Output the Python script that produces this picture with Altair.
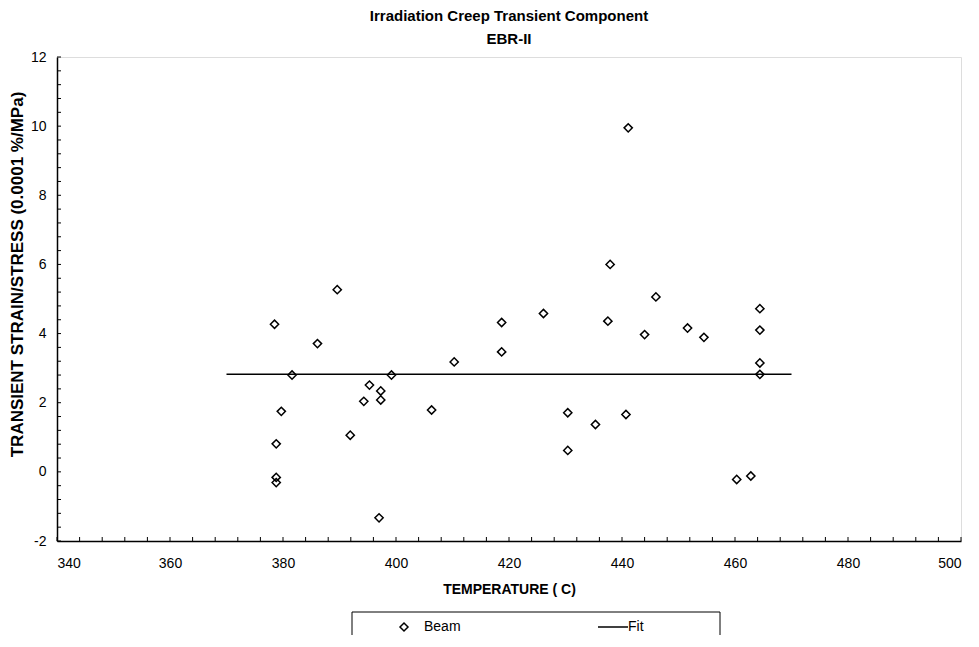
import altair as alt
import pandas as pd

beam_temperature = [378.5, 378.8, 378.8, 378.8, 379.7, 381.6, 386.1, 389.6, 391.9,
                    394.3, 395.3, 397.0, 397.3, 397.3, 399.2, 406.3, 410.3, 418.7,
                    418.7, 426.1, 430.4, 430.4, 435.3, 437.9, 437.5, 440.7, 441.1,
                    444.0, 446.0, 451.6, 454.5, 460.3, 462.8, 464.4, 464.4, 464.4, 464.4]
beam_strain = [4.27, 0.81, -0.16, -0.31, 1.75, 2.80, 3.71, 5.27, 1.06,
               2.04, 2.51, -1.33, 2.34, 2.08, 2.80, 1.79, 3.18, 4.32,
               3.47, 4.58, 1.71, 0.62, 1.37, 6.00, 4.36, 1.66, 9.95,
               3.97, 5.06, 4.16, 3.89, -0.22, -0.12, 4.72, 4.10, 3.15, 2.82]

# Fit line
fit_temperature = [370, 470]
fit_strain = [2.82, 2.82]

# Axis labels and minor tick positions
x_labels = [340, 360, 380, 400, 420, 440, 460, 480, 500]
y_labels = [-2, 0, 2, 4, 6, 8, 10, 12]
x_ticks = [340, 344, 348, 352, 356, 360, 364, 368, 372, 376, 380, 384, 388, 392,
           396, 400, 404, 408, 412, 416, 420, 424, 428, 432, 436, 440, 444, 448,
           452, 456, 460, 464, 468, 472, 476, 480, 484, 488, 492, 496, 500]
y_ticks = [-2.0, -1.6, -1.2, -0.8, -0.4, 0.0, 0.4, 0.8, 1.2, 1.6, 2.0, 2.4, 2.8,
           3.2, 3.6, 4.0, 4.4, 4.8, 5.2, 5.6, 6.0, 6.4, 6.8, 7.2, 7.6, 8.0, 8.4,
           8.8, 9.2, 9.6, 10.0, 10.4, 10.8, 11.2, 11.6, 12.0]

series_names = ["Beam", "Fit"]

beam_df = pd.DataFrame({"temperature": beam_temperature, "strain": beam_strain,
                        "series": "Beam"})
fit_df = pd.DataFrame({"temperature": fit_temperature, "strain": fit_strain})
xt_df = pd.DataFrame({"temperature": x_ticks})
yt_df = pd.DataFrame({"strain": y_ticks})

W, H = 904, 484
FONT = "Liberation Sans"

x_scale = alt.Scale(domain=[340, 500], nice=False, zero=False)
y_scale = alt.Scale(domain=[-2, 12], nice=False, zero=False)

x_axis = alt.Axis(values=x_labels, labelExpr="toString(datum.value)",
                  ticks=False, grid=False,
                  domainColor="black", domainWidth=1.5,
                  labelFont=FONT, labelFontSize=14, labelColor="black",
                  labelPadding=15,
                  title="TEMPERATURE ( C)", titleFont=FONT, titleFontSize=14,
                  titleFontWeight="bold", titleColor="black", titlePadding=12)
y_axis = alt.Axis(values=y_labels, labelExpr="toString(datum.value)",
                  ticks=False, grid=False,
                  domainColor="black", domainWidth=1.5,
                  labelFont=FONT, labelFontSize=14, labelColor="black",
                  labelPadding=11,
                  title="TRANSIENT STRAIN/STRESS (0.0001 %/MPa)", titleFont=FONT,
                  titleFontSize=17, titleFontWeight="bold", titleColor="black",
                  titleX=-31, titleY=217)

x_enc = alt.X("temperature:Q", scale=x_scale, axis=x_axis)
y_enc = alt.Y("strain:Q", scale=y_scale, axis=y_axis)

legend_box = alt.Chart(alt.Data(values=[{}])).mark_rect(
    fill="white", stroke="black", strokeWidth=1
).encode(x=alt.value(295), x2=alt.value(663), y=alt.value(555), y2=alt.value(590))

fit = alt.Chart(fit_df).mark_line(color="black", strokeWidth=1.5).encode(
    x=x_enc, y=y_enc)

points = alt.Chart(beam_df).mark_point(
    filled=False, color="black", strokeWidth=1.5, size=68, opacity=1
).encode(
    x=x_enc, y=y_enc,
    shape=alt.Shape("series:N",
                    scale=alt.Scale(domain=series_names,
                                    range=["diamond", "M-2.5,0H5"]),
                    legend=alt.Legend(title=None, orient="none", legendX=340,
                                      legendY=563, direction="horizontal",
                                      labelFont=FONT, labelFontSize=14,
                                      labelColor="black", labelOffset=13,
                                      columnPadding=134, symbolSize=64,
                                      symbolStrokeWidth=1.5,
                                      symbolStrokeColor="black"))
)

x_minor = alt.Chart(xt_df).mark_rule(color="black", strokeWidth=1).encode(
    x=x_enc, y=alt.value(H), y2=alt.value(H - 4))
y_minor = alt.Chart(yt_df).mark_rule(color="black", strokeWidth=1).encode(
    y=y_enc, x=alt.value(0), x2=alt.value(4))

chart = alt.layer(legend_box, x_minor, y_minor, fit, points).properties(
    width=W, height=H,
    padding={"left": 49, "top": 49, "right": 8, "bottom": 94},
    autosize=alt.AutoSizeParams(type="none"),
    title=alt.Title(["Irradiation Creep Transient Component", "EBR-II"],
                    font=FONT, fontSize=15, fontWeight="bold", color="black",
                    anchor="middle", frame="group", offset=3, lineHeight=23),
).configure_view(stroke="black", strokeWidth=1.5).configure(background="white")

chart.save("out.html", embed_options={"renderer": "svg", "actions": False})
